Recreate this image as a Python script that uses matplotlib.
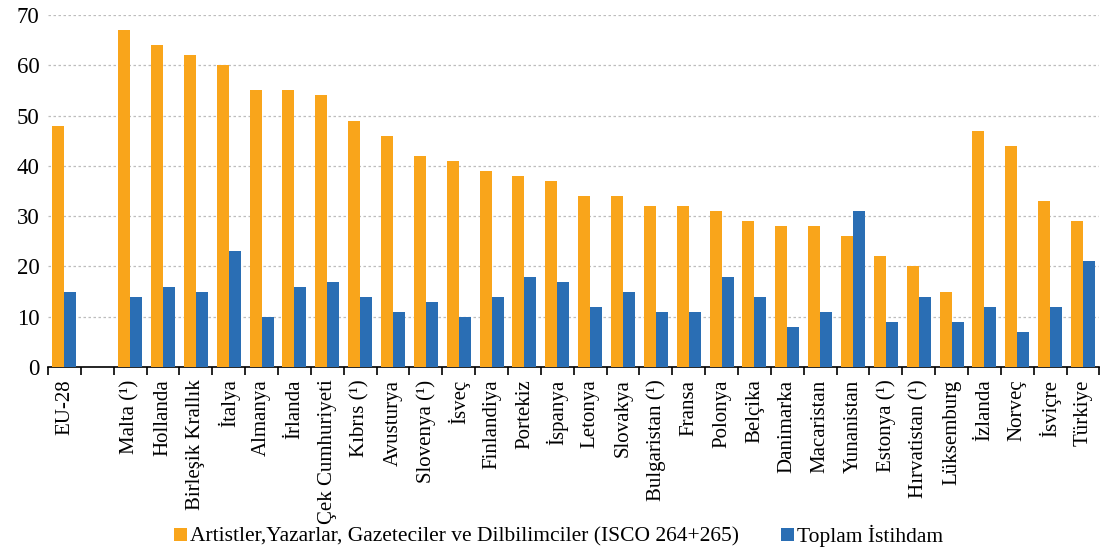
import matplotlib
matplotlib.use("Agg")
import matplotlib.pyplot as plt
import numpy as np

plt.rcParams['font.family'] = ['Liberation Serif', 'DejaVu Serif']

categories = ["EU-28", "", "Malta (¹)", "Hollanda", "Birleşik Krallık", "İtalya", "Almanya",
              "İrlanda", "Çek Cumhuriyeti", "Kıbrıs (¹)", "Avusturya", "Slovenya (¹)", "İsveç",
              "Finlandiya", "Portekiz", "İspanya", "Letonya", "Slovakya", "Bulgaristan (¹)",
              "Fransa", "Polonya", "Belçika", "Danimarka", "Macaristan", "Yunanistan",
              "Estonya (¹)", "Hırvatistan (¹)", "Lüksemburg", "İzlanda", "Norveç", "İsviçre",
              "Türkiye"]
artists = [48, np.nan, 67, 64, 62, 60, 55, 55, 54, 49, 46, 42, 41, 39, 38, 37, 34, 34, 32,
           32, 31, 29, 28, 28, 26, 22, 20, 15, 47, 44, 33, 29]
total = [15, np.nan, 14, 16, 15, 23, 10, 16, 17, 14, 11, 13, 10, 14, 18, 17, 12, 15, 11,
         11, 18, 14, 8, 11, 31, 9, 14, 9, 12, 7, 12, 21]
series_names = ["Artistler,Yazarlar, Gazeteciler ve Dilbilimciler (ISCO 264+265)",
                "Toplam İstihdam"]

orange = "#F9A51B"
blue = "#2A6EB4"

fig = plt.figure(figsize=(11.02, 5.52), dpi=100)
ax = fig.add_axes([0.0436, 0.335, 0.954, 0.638])

x = np.arange(len(categories))
w = 0.365
ax.bar(x - w / 2, artists, w, color=orange, label=series_names[0], zorder=3)
ax.bar(x + w / 2, total, w, color=blue, label=series_names[1], zorder=3)

ax.set_xlim(-0.5, len(categories) - 0.5)
ax.set_ylim(0, 70)
ax.set_yticks(range(0, 71, 10))
ax.yaxis.grid(True, color="#BDBDBD", linestyle=(0, (2, 2)), linewidth=0.9, zorder=0)
ax.tick_params(axis="y", length=0, labelsize=16.5, pad=6)

ax.set_xticks(x)
ax.set_xticklabels(categories, rotation=90, fontsize=15)
ax.set_xticks(np.arange(-0.5, len(categories)), minor=True)
ax.tick_params(axis="x", which="major", length=0, pad=9)
ax.tick_params(axis="x", which="minor", length=6, width=1.2, color="black", direction="out")

for s in ["top", "right", "left"]:
    ax.spines[s].set_visible(False)
ax.spines["bottom"].set_linewidth(1.2)

fig.legend(loc="lower center", bbox_to_anchor=(0.507, -0.026), ncol=2, frameon=False,
           fontsize=15.5, handlelength=0.6, handleheight=0.6, handletextpad=0.15,
           columnspacing=1.95)

fig.savefig("out.png", dpi=100)
